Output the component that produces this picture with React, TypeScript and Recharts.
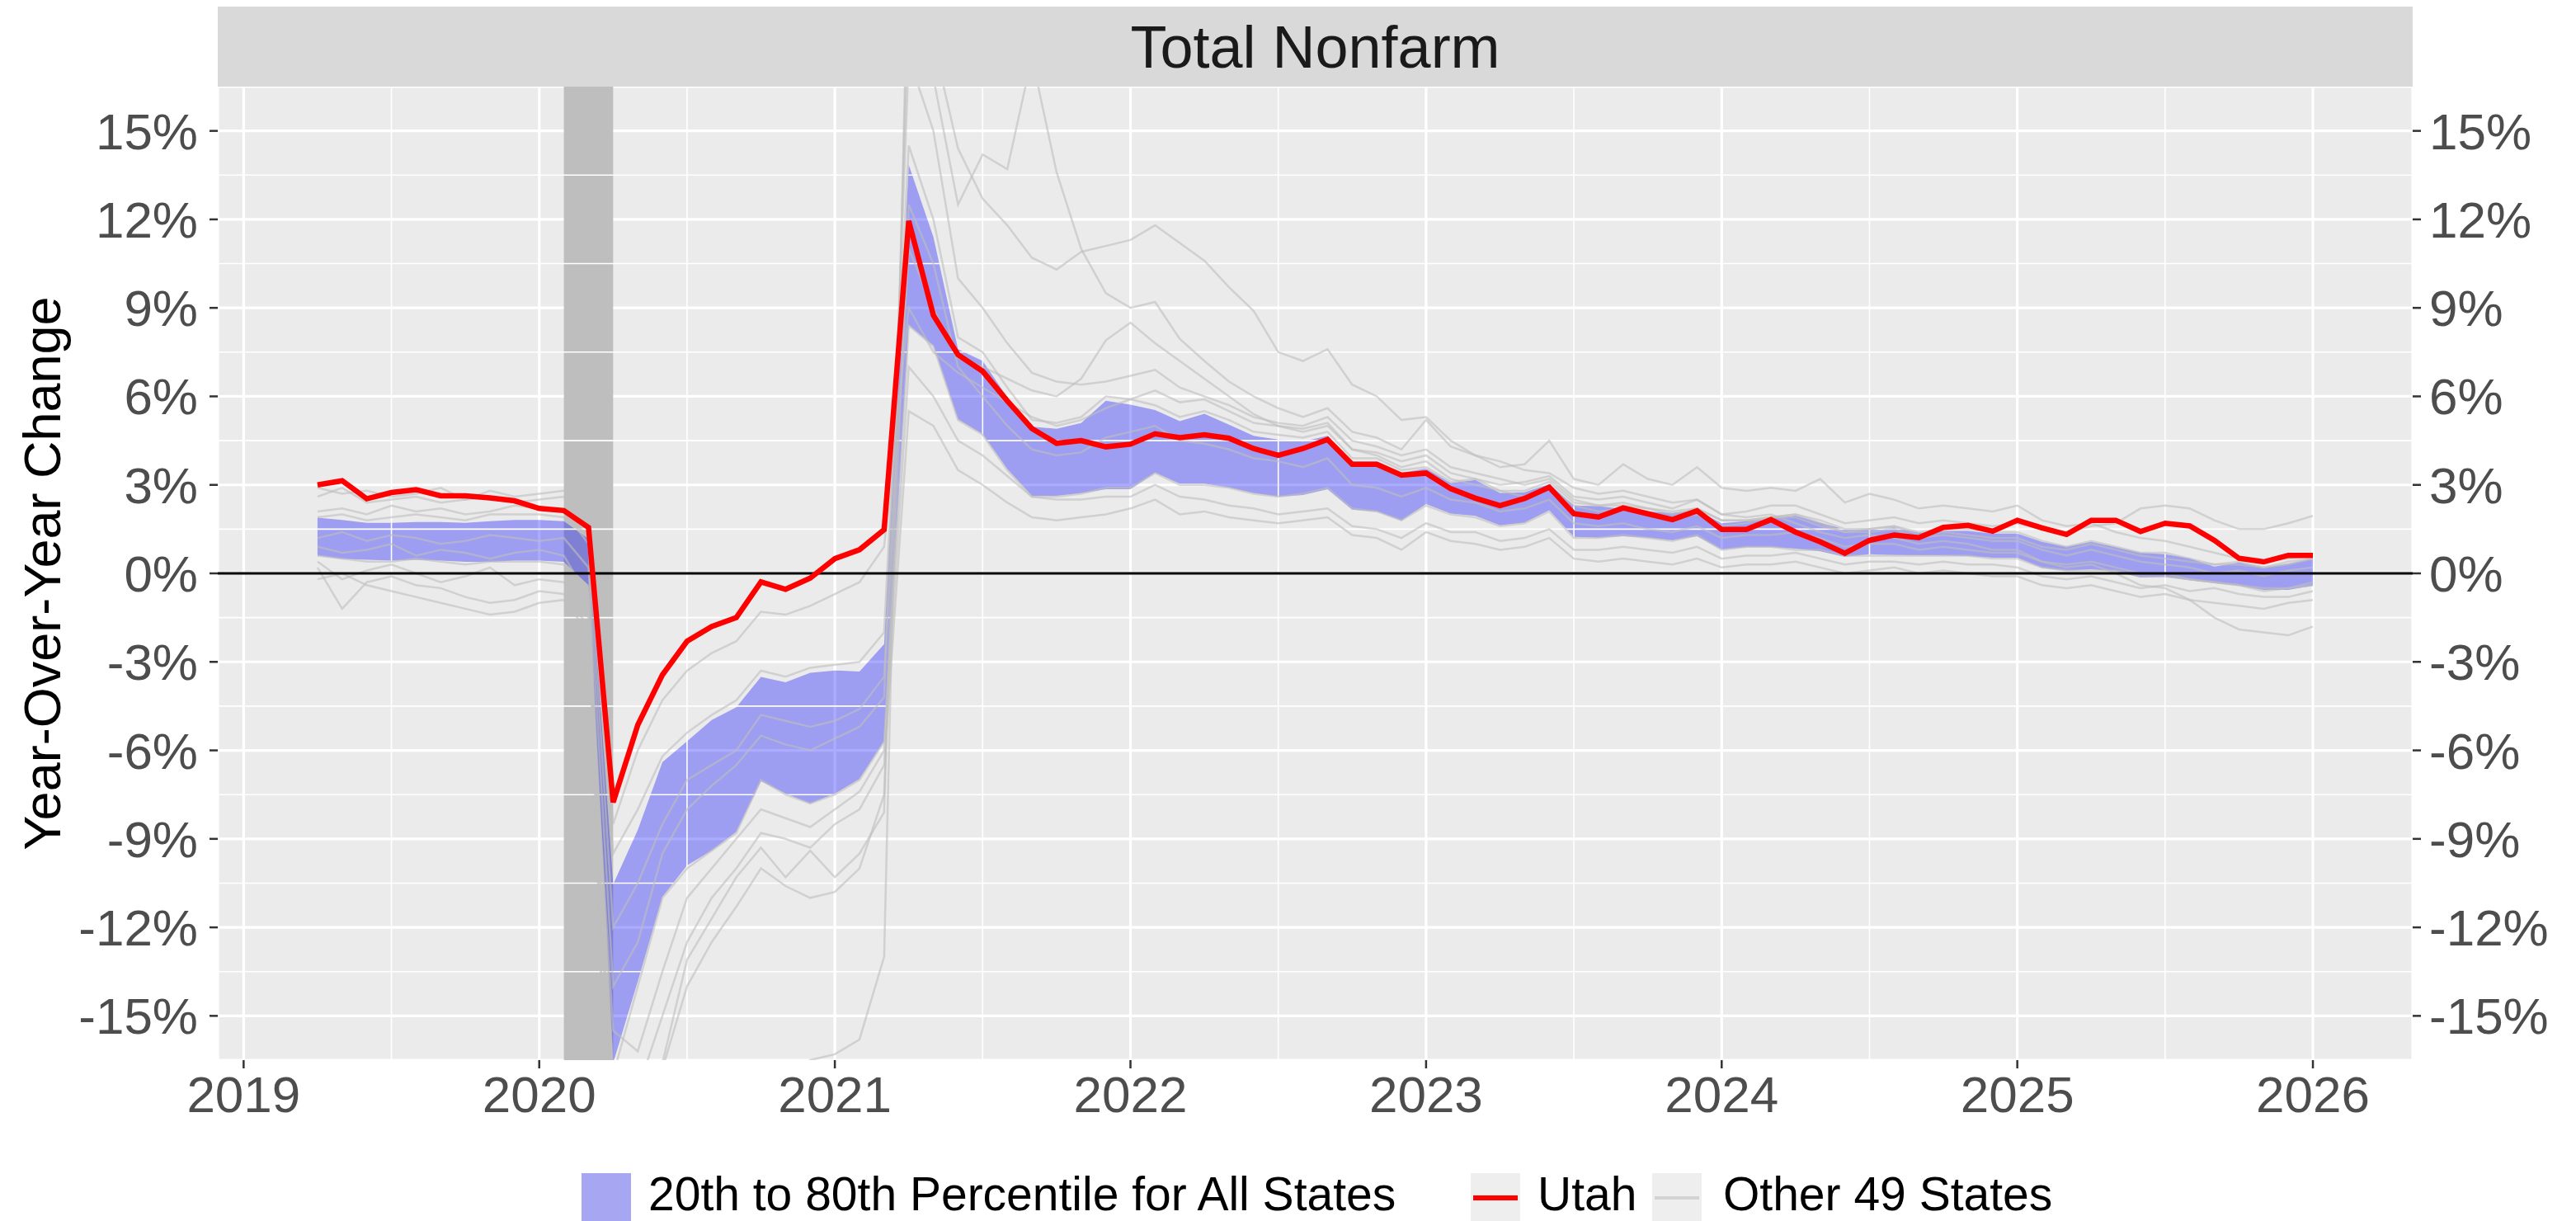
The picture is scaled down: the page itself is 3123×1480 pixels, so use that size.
import {
  ComposedChart,
  Line,
  Area,
  XAxis,
  YAxis,
  CartesianGrid,
  ReferenceLine,
  ReferenceArea,
} from 'recharts';

const FONT = '"Liberation Sans", Arial, Helvetica, sans-serif';

// monthly series, April 2019 .. January 2026 (82 months)
const firstMonth = 2019 + 3 / 12;

const xTicks = [2019, 2020, 2021, 2022, 2023, 2024, 2025, 2026];
const xMinor = [2019.5, 2020.5, 2021.5, 2022.5, 2023.5, 2024.5, 2025.5];
const yTicks = [-15, -12, -9, -6, -3, 0, 3, 6, 9, 12, 15];
const yMinor = [-13.5, -10.5, -7.5, -4.5, -1.5, 1.5, 4.5, 7.5, 10.5, 13.5];
const recession = { start: 2020 + 1 / 12, end: 2020 + 3 / 12 };

const utah = [
  3.0, 3.14, 2.53, 2.74, 2.84, 2.63, 2.63, 2.56, 2.46,
  2.2, 2.13, 1.56, -7.76, -5.14, -3.44, -2.3, -1.8, -1.5, -0.29, -0.54, -0.16,
  0.5, 0.8, 1.48, 11.95, 8.75, 7.41, 6.85, 5.85, 4.91, 4.41, 4.5, 4.29,
  4.38, 4.73, 4.6, 4.7, 4.58, 4.23, 4.0, 4.23, 4.54, 3.7, 3.7, 3.33,
  3.4, 2.87, 2.55, 2.3, 2.54, 2.92, 2.02, 1.91, 2.22, 2.02, 1.82, 2.12,
  1.49, 1.49, 1.82, 1.4, 1.07, 0.68, 1.12, 1.3, 1.21, 1.56, 1.63, 1.43,
  1.8, 1.54, 1.32, 1.8, 1.8, 1.42, 1.7, 1.61, 1.12, 0.51, 0.39, 0.61,
  0.61,
];

// 80th percentile of all states
const bandHigh = [
  1.89, 1.81, 1.71, 1.71, 1.74, 1.74, 1.71, 1.77, 1.81,
  1.81, 1.77, 1.17, -10.54, -8.7, -6.4, -5.69, -4.97, -4.54, -3.51, -3.69, -3.37,
  -3.29, -3.33, -2.4, 13.85, 11.4, 7.6, 7.2, 5.97, 4.97, 4.9, 5.1, 5.85,
  5.72, 5.54, 5.16, 5.41, 5.04, 4.66, 4.54, 4.47, 4.66, 3.79, 3.79, 3.41,
  3.55, 3.06, 3.17, 2.73, 2.75, 3.03, 2.3, 2.28, 2.19, 2.1, 2.05, 2.14,
  1.7, 1.77, 1.86, 1.96, 1.72, 1.49, 1.49, 1.56, 1.38, 1.44, 1.44, 1.35,
  1.35, 1.07, 0.9, 1.07, 0.89, 0.7, 0.65, 0.51, 0.23, 0.37, 0.19, 0.33,
  0.49,
];

// 20th percentile of all states
const bandLow = [
  0.6, 0.49, 0.46, 0.43, 0.46, 0.43, 0.39, 0.39, 0.43,
  0.43, 0.39, -0.4, -16.6, -13.83, -10.97, -9.9, -9.4, -8.76, -7.04, -7.47, -7.8,
  -7.47, -6.97, -5.69, 8.41, 7.72, 5.22, 4.72, 3.54, 2.63, 2.63, 2.72, 2.85,
  2.85, 3.41, 3.04, 3.04, 2.91, 2.72, 2.6, 2.66, 2.85, 2.16, 2.1, 1.79,
  2.35, 2.03, 1.95, 1.63, 1.72, 2.14, 1.24, 1.21, 1.26, 1.21, 1.12, 1.26,
  0.81, 0.89, 0.89, 0.84, 0.75, 0.56, 0.65, 0.62, 0.61, 0.61, 0.59, 0.53,
  0.53, 0.19, 0.09, 0.14, 0.07, -0.14, -0.12, -0.23, -0.33, -0.42, -0.56, -0.56,
  -0.42,
];

// a sample of the other states (grey lines)
const stateA = [
  0.4, -0.2, 0.1, 0.3, 0.0, -0.3, -0.1, 0.2, -0.4,
  -0.2, -0.3, -1.5, -25.0, -24.0, -22.5, -21.0, -20.0, -19.0, -18.0, -17.2, -16.5,
  -16.3, -15.8, -13.0, 22.0, 18.0, 14.4, 12.7, 11.8, 10.7, 10.3, 10.9, 11.1,
  11.3, 11.8, 11.2, 10.6, 9.7, 8.9, 7.5, 7.2, 7.6, 6.4, 6.0, 5.2,
  5.3, 4.5, 4.0, 3.8, 3.5, 3.4, 2.9, 2.7, 2.8, 2.6, 2.4, 2.5,
  2.0, 1.9, 2.0, 1.7, 1.4, 1.2, 1.3, 1.2, 1.0, 1.1, 1.0, 0.8,
  0.8, 0.4, 0.2, 0.3, 0.0, -0.4, -0.5, -0.9, -1.5, -1.9, -2.0, -2.1,
  -1.8,
];
const stateB = [
  2.9, 2.7, 2.8, 2.6, 2.7, 2.9, 2.5, 2.6, 2.4,
  2.5, 2.6, 1.5, -28.0, -22.0, -16.6, -13.1, -11.7, -10.3, -9.3, -10.3, -9.4,
  -10.3, -9.5, -8.1, 20.0, 16.8, 12.5, 14.2, 13.7, 17.5, 13.6, 11.0, 9.5,
  9.0, 9.2, 7.95, 7.2, 6.5, 6.0, 5.6, 5.3, 5.6, 4.8, 4.6, 4.2,
  5.2, 4.3, 4.0, 3.6, 3.7, 4.5, 3.2, 3.0, 3.7, 3.2, 3.0, 3.6,
  2.9, 2.8, 2.9, 2.8, 3.2, 2.4, 2.7, 2.5, 2.2, 2.3, 2.2, 2.1,
  2.3, 1.8, 1.6, 1.7, 1.4, 1.2, 1.1, 0.9, 0.7, 0.5, 0.4, 0.5,
  0.6,
];
const stateC = [
  2.6, 2.9, 2.4, 2.5, 2.6, 2.4, 2.5, 2.8, 2.6,
  2.7, 2.8, 2.0, -8.5, -6.0, -4.3, -3.3, -2.7, -2.3, -1.3, -1.4, -1.1,
  -0.7, -0.3, 0.9, 9.0, 7.5, 6.8, 6.3, 5.8, 5.3, 5.0, 5.2, 5.6,
  5.9, 6.2, 5.8, 5.9, 5.5, 5.1, 5.0, 4.9, 5.1, 4.2, 4.1, 3.8,
  4.0, 3.4, 3.2, 3.0, 3.1, 3.3, 2.6, 2.5, 2.6, 2.4, 2.2, 2.5,
  2.0, 2.1, 2.3, 2.3, 2.0, 1.7, 1.8, 1.9, 1.7, 1.8, 1.7, 1.6,
  1.7, 1.5, 1.4, 1.6, 1.7, 2.2, 2.3, 2.2, 1.8, 1.5, 1.5, 1.7,
  1.95,
];
const stateD = [
  2.1, 2.2, 2.0, 2.3, 2.1, 2.2, 2.0, 2.1, 2.3,
  2.2, 2.1, 1.0, -12.0, -10.5, -8.5, -7.0, -6.5, -6.0, -4.8, -5.0, -5.2,
  -5.0, -4.6, -3.5, 11.0, 9.0, 7.3, 7.0, 6.6, 6.2, 6.0, 6.6, 7.9,
  8.5, 7.8, 7.2, 6.6, 6.0, 5.4, 5.0, 4.8, 5.0, 4.2, 4.0, 3.6,
  3.8, 3.2, 3.0, 2.8, 2.6, 2.9, 2.3, 2.1, 2.2, 2.0, 1.9, 2.0,
  1.6, 1.7, 1.9, 2.0, 1.7, 1.4, 1.5, 1.6, 1.3, 1.4, 1.3, 1.2,
  1.2, 0.9, 0.8, 1.0, 0.8, 0.6, 0.5, 0.4, 0.3, 0.3, 0.2, 0.3,
  0.5,
];
const stateE = [
  0.2, -1.2, -0.3, -0.1, -0.4, -0.5, -0.8, -1.0, -0.9,
  -0.6, -0.7, -1.8, -19.0, -17.5, -15.0, -12.5, -11.0, -10.0, -8.8, -9.0, -9.3,
  -8.5, -8.0, -6.5, 5.5, 5.0, 3.5, 3.0, 2.4, 1.9, 1.8, 1.9, 2.0,
  2.2, 2.5, 2.0, 2.1, 1.9, 1.8, 1.7, 1.8, 1.9, 1.3, 1.2, 0.8,
  1.4, 1.1, 1.0, 0.8, 0.9, 1.2, 0.5, 0.4, 0.5, 0.4, 0.3, 0.5,
  0.2, 0.3, 0.3, 0.4, 0.2, 0.0, 0.1, 0.2, 0.0, 0.1, 0.0, -0.1,
  -0.1, -0.4, -0.5, -0.4, -0.6, -0.8, -0.7, -0.9, -1.0, -1.1, -1.2, -1.0,
  -0.9,
];
const stateF = [
  -0.2, 0.0, -0.4, -0.6, -0.8, -1.0, -1.2, -1.4, -1.3,
  -1.0, -0.9, -2.0, -15.5, -16.2, -13.5, -11.0, -10.0, -9.0, -8.0, -8.3, -8.6,
  -8.0, -7.4, -6.0, 7.0, 6.0, 4.5, 4.0, 3.3, 2.6, 2.5, 2.5, 2.6,
  2.6, 3.0, 2.6, 2.5, 2.3, 2.2, 2.0, 2.1, 2.2, 1.6, 1.5, 1.2,
  1.7, 1.4, 1.4, 1.1, 1.2, 1.5, 0.8, 0.8, 0.9, 0.8, 0.7, 0.9,
  0.5, 0.6, 0.6, 0.7, 0.5, 0.3, 0.4, 0.4, 0.3, 0.4, 0.3, 0.3,
  0.2, -0.1, -0.2, -0.1, -0.3, -0.5, -0.4, -0.6, -0.5, -0.7, -0.8, -0.8,
  -0.6,
];
const stateG = [
  1.9, 2.0, 1.8, 1.9, 2.0, 1.9, 1.8, 2.0, 2.0,
  2.0, 1.9, 1.3, -9.5, -8.0, -6.2, -5.4, -4.8, -4.3, -3.3, -3.5, -3.2,
  -3.1, -3.0, -2.0, 14.5, 12.0, 8.0, 7.5, 6.3, 5.2, 5.1, 5.3, 6.0,
  5.9, 5.7, 5.3, 5.5, 5.2, 4.8, 4.7, 4.6, 4.8, 3.9, 3.9, 3.5,
  3.6, 3.1, 3.2, 2.8, 2.8, 3.1, 2.4, 2.3, 2.3, 2.2, 2.1, 2.2,
  1.8, 1.8, 1.9, 2.0, 1.8, 1.5, 1.5, 1.6, 1.4, 1.5, 1.5, 1.4,
  1.4, 1.1, 0.9, 1.1, 0.9, 0.7, 0.7, 0.5, 0.3, 0.4, 0.2, 0.4,
  0.5,
];
const stateH = [
  0.6, 0.5, 0.4, 0.4, 0.5, 0.4, 0.3, 0.4, 0.4,
  0.4, 0.3, -0.5, -17.0, -14.0, -11.0, -10.0, -9.4, -8.8, -7.0, -7.5, -7.8,
  -7.5, -7.0, -5.7, 8.4, 7.7, 5.2, 4.7, 3.5, 2.6, 2.6, 2.7, 2.9,
  2.9, 3.4, 3.0, 3.0, 2.9, 2.7, 2.6, 2.7, 2.9, 2.2, 2.1, 1.8,
  2.3, 2.0, 1.9, 1.6, 1.7, 2.1, 1.2, 1.2, 1.3, 1.2, 1.1, 1.3,
  0.8, 0.9, 0.9, 0.8, 0.8, 0.6, 0.6, 0.6, 0.6, 0.6, 0.6, 0.5,
  0.5, 0.2, 0.1, 0.1, 0.1, -0.1, -0.1, -0.2, -0.3, -0.4, -0.5, -0.5,
  -0.4,
];
const stateI = [
  1.2, 1.4, 1.1, 1.3, 1.2, 1.0, 1.1, 1.3, 1.2,
  1.1, 1.2, 0.2, -14.0, -12.5, -9.5, -8.0, -7.2, -6.5, -5.5, -5.8, -6.0,
  -5.6, -5.2, -4.2, 17.5, 15.0, 10.0, 9.0, 7.8, 6.8, 6.5, 6.4, 6.5,
  6.7, 6.9, 6.3, 6.0, 5.7, 5.3, 5.1, 5.0, 5.3, 4.5, 4.3, 4.0,
  4.2, 3.6, 3.4, 3.2, 3.0, 3.2, 2.5, 2.3, 2.4, 2.2, 2.0, 2.2,
  1.8, 1.8, 1.9, 1.9, 1.6, 1.4, 1.4, 1.5, 1.2, 1.3, 1.2, 1.1,
  1.1, 0.8, 0.6, 0.8, 0.6, 0.4, 0.3, 0.2, 0.0, 0.1, -0.1, 0.1,
  0.2,
];
const stateJ = [
  0.9, 0.7, 0.8, 1.0, 0.6, 0.8, 0.7, 0.5, 0.7,
  0.8, 0.6, -0.8, -21.0, -18.0, -16.8, -14.0, -12.5, -11.3, -10.0, -10.6, -11.0,
  -10.8, -10.0, -7.5, 12.5, 10.5, 7.0, 6.0, 5.0, 4.2, 4.0, 4.1, 4.6,
  4.8, 5.0, 4.5, 4.4, 4.2, 3.9, 3.8, 3.6, 3.9, 3.0, 2.9, 2.6,
  2.9, 2.5, 2.4, 2.1, 2.2, 2.5, 1.7, 1.6, 1.7, 1.5, 1.4, 1.6,
  1.2, 1.3, 1.3, 1.4, 1.2, 0.9, 1.0, 1.0, 0.8, 0.9, 0.8, 0.7,
  0.7, 0.4, 0.3, 0.4, 0.2, 0.0, 0.0, -0.2, -0.3, -0.4, -0.6, -0.5,
  -0.3,
];

const otherStates = [stateA, stateB, stateC, stateD, stateE, stateF, stateG, stateH, stateI, stateJ];

const rows = utah.map((value, i) => {
  const row: Record<string, number | number[]> = {
    t: firstMonth + i / 12,
    utah: value,
    band: [bandLow[i], bandHigh[i]],
  };
  otherStates.forEach((s, k) => {
    row[`s${k}`] = s[i];
  });
  return row;
});

const W = 3123;
const H = 1480;

const tickStyle = { fill: '#4D4D4D', fontSize: 62, fontFamily: FONT };
const pct = (v: number) => `${v}%`;

export default function App() {
  return (
    <div
      style={{
        position: 'absolute',
        left: 0,
        top: 0,
        width: W,
        height: H,
        overflow: 'hidden',
        background: '#fff',
        fontFamily: FONT,
      }}
    >
      <ComposedChart width={W} height={H} data={rows} margin={{ top: 105, right: 0, bottom: 0, left: 0 }}>
        <CartesianGrid fill="#EBEBEB" fillOpacity={1} stroke="#FFFFFF" strokeWidth={3.2} />
        {yMinor.map((y) => (
          <ReferenceLine key={`ym${y}`} y={y} stroke="#FFFFFF" strokeWidth={1.6} />
        ))}
        {xMinor.map((x) => (
          <ReferenceLine key={`xm${x}`} x={x} stroke="#FFFFFF" strokeWidth={1.6} />
        ))}
        <ReferenceArea x1={recession.start} x2={recession.end} fill="#BEBEBE" fillOpacity={1} stroke="none" />
        {otherStates.map((_, k) => (
          <Line
            key={`s${k}`}
            dataKey={`s${k}`}
            type="linear"
            stroke="#BEBEBE"
            strokeOpacity={0.6}
            strokeWidth={2.5}
            dot={false}
            activeDot={false}
            isAnimationActive={false}
          />
        ))}
        <Area
          dataKey="band"
          type="linear"
          stroke="none"
          fill="#0000FF"
          fillOpacity={0.33}
          activeDot={false}
          isAnimationActive={false}
        />
        <ReferenceLine y={0} stroke="#000000" strokeWidth={3} />
        <Line
          dataKey="utah"
          type="linear"
          stroke="#FF0000"
          strokeWidth={6.5}
          dot={false}
          activeDot={false}
          isAnimationActive={false}
        />
        <XAxis
          dataKey="t"
          type="number"
          domain={[2018.9125, 2026.3375]}
          allowDataOverflow
          ticks={xTicks}
          interval={0}
          height={195}
          tick={tickStyle}
          tickLine={{ stroke: '#333333', strokeWidth: 2.5 }}
          axisLine={false}
          tickSize={10}
          tickMargin={9}
        />
        <YAxis
          type="number"
          domain={[-16.5, 16.5]}
          allowDataOverflow
          ticks={yTicks}
          interval={0}
          width={264}
          tickFormatter={pct}
          tick={tickStyle}
          tickLine={{ stroke: '#333333', strokeWidth: 2.5 }}
          axisLine={false}
          tickSize={10}
          tickMargin={14}
        />
        <YAxis
          yAxisId="right"
          orientation="right"
          type="number"
          domain={[-16.5, 16.5]}
          allowDataOverflow
          ticks={yTicks}
          interval={0}
          width={198}
          tickFormatter={pct}
          tick={tickStyle}
          tickLine={{ stroke: '#333333', strokeWidth: 2.5 }}
          axisLine={false}
          tickSize={10}
          tickMargin={10}
        />
      </ComposedChart>

      {/* facet strip */}
      <div
        style={{
          position: 'absolute',
          left: 264,
          top: 8,
          width: 2925 - 264,
          height: 97,
          background: '#D9D9D9',
          display: 'flex',
          alignItems: 'center',
          justifyContent: 'center',
          fontSize: 72,
          color: '#1A1A1A',
        }}
      >
        Total Nonfarm
      </div>

      {/* y axis title */}
      <div
        style={{
          position: 'absolute',
          left: 51,
          top: 695,
          transform: 'translate(-50%, -50%) rotate(-90deg)',
          whiteSpace: 'nowrap',
          fontSize: 63,
          color: '#000',
        }}
      >
        Year-Over-Year Change
      </div>

      {/* legend */}
      <div style={{ position: 'absolute', left: 705, top: 1422, width: 60, height: 60, background: '#EEEEEE' }}>
        <div style={{ width: '100%', height: '100%', background: 'rgba(0,0,255,0.3)' }} />
      </div>
      <div style={{ position: 'absolute', left: 786, top: 1417, lineHeight: '60px', fontSize: 57, whiteSpace: 'nowrap' }}>
        20th to 80th Percentile for All States
      </div>
      <div style={{ position: 'absolute', left: 1783, top: 1422, width: 60, height: 60, background: '#EEEEEE' }}>
        <div style={{ position: 'absolute', left: 3, right: 3, top: 27, height: 6, background: '#FF0000' }} />
      </div>
      <div style={{ position: 'absolute', left: 1864, top: 1417, lineHeight: '60px', fontSize: 57, whiteSpace: 'nowrap' }}>
        Utah
      </div>
      <div style={{ position: 'absolute', left: 2003, top: 1422, width: 60, height: 60, background: '#EEEEEE' }}>
        <div style={{ position: 'absolute', left: 3, right: 3, top: 28, height: 4, background: '#D3D3D3' }} />
      </div>
      <div style={{ position: 'absolute', left: 2089, top: 1417, lineHeight: '60px', fontSize: 57, whiteSpace: 'nowrap' }}>
        Other 49 States
      </div>
    </div>
  );
}
